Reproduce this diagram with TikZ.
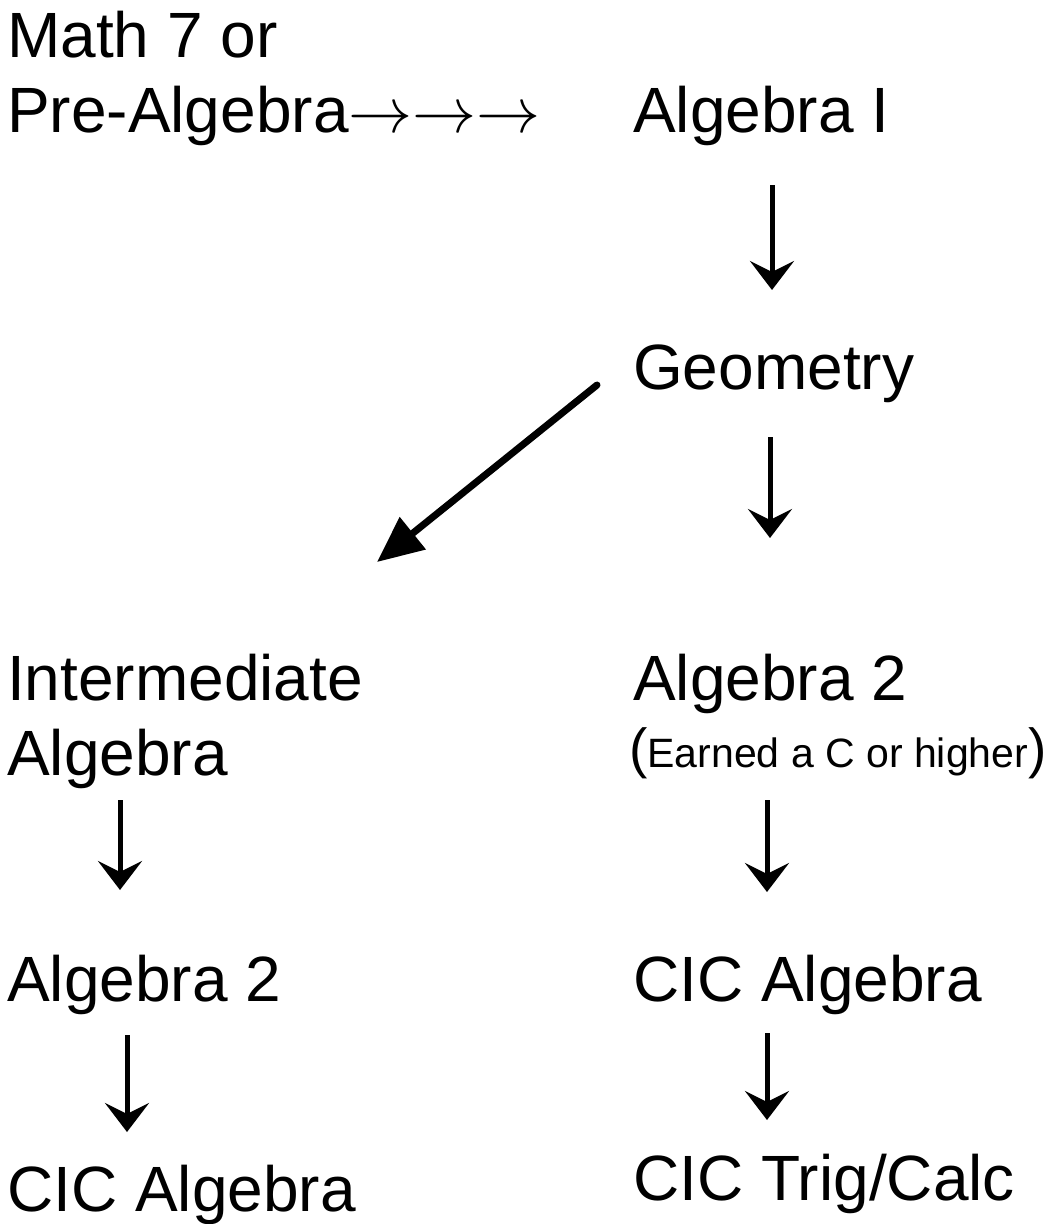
\documentclass[tikz,border=0pt]{standalone}
\usepackage{fontspec}
\setmainfont{Liberation Sans}
\usetikzlibrary{arrows.meta}

\newcommand{\pathto}{\scalebox{6.4}{\fontsize{10}{12}\selectfont$\rightarrow$}}

\begin{document}
\begin{tikzpicture}[
    x=1pt, y=-1pt,
    course/.style={
        font={\fontsize{64}{75}\selectfont}, inner sep=0pt, align=left
    },
    notetext/.style={inner sep=0pt},
    downarr/.style={
        -{Stealth[length=29pt, width=44pt, inset=11pt]}, line width=5pt
    },
    diagarr/.style={
        -{Triangle[length=46pt, width=40pt]}, line width=7pt, line cap=round
    },
]
\useasboundingbox (0,0) rectangle (1051,1224);

% ---- Left column ----
\node[course, anchor=north west] (premath) at (7,11)
    {Math 7 or\\Pre-Algebra\pathto\pathto\pathto};
\node[course, anchor=north west] (inter) at (7,654) {Intermediate\\Algebra};
\node[course, anchor=base west] (alg2l) at (7,1001) {Algebra 2};
\node[course, anchor=base west] (cicl) at (7,1211) {CIC Algebra};

% ---- Right column ----
\node[course, anchor=base west] (alg1) at (633,132) {Algebra I};
\node[course, anchor=base west] (geo) at (633,389) {Geometry};
\node[course, anchor=base west] (alg2r) at (633,700) {Algebra 2};
\node[notetext, anchor=base west] (earned) at (629,767)
    {{\fontsize{55}{55}\selectfont(}{\fontsize{41}{41}\selectfont Earned a C or higher}{\fontsize{55}{55}\selectfont)}};
\node[course, anchor=base west] (cicr) at (633,1001) {CIC Algebra};
\node[course, anchor=base west] (cict) at (633,1200) {CIC Trig/Calc};

% ---- Down arrows ----
\draw[downarr] ([shift={(139,53)}]alg1.base west) -- ([shift={(139,-99)}]geo.base west);
\draw[downarr] ([shift={(137,48)}]geo.base west) -- ([shift={(137,-162)}]alg2r.base west);
\draw[downarr] ([shift={(134,100)}]alg2r.base west) -- ([shift={(134,-109)}]cicr.base west);
\draw[downarr] ([shift={(134,32)}]cicr.base west) -- ([shift={(134,-80)}]cict.base west);
\draw[downarr] ([shift={(113,146)}]inter.north west) -- ([shift={(113,-111)}]alg2l.base west);
\draw[downarr] ([shift={(120,34)}]alg2l.base west) -- ([shift={(120,-79)}]cicl.base west);

% ---- Geometry to Intermediate Algebra ----
\draw[diagarr] ([shift={(-36,-4)}]geo.base west) -- ([shift={(370,-92)}]inter.north west);

\end{tikzpicture}
\end{document}
